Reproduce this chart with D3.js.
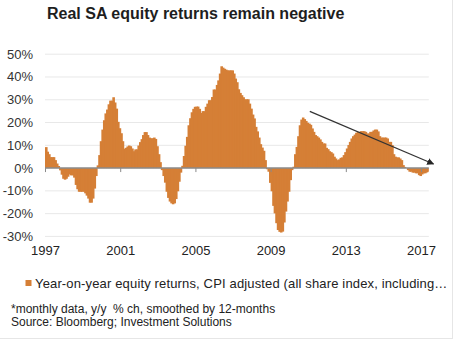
<!DOCTYPE html>
<html>
<head>
<meta charset="utf-8">
<script src="https://cdn.jsdelivr.net/npm/d3@7"></script>
<style>
  body { margin: 0; background: #fff; }
  svg { display: block; font-family: "Liberation Sans", Arial, sans-serif; }
  text { white-space: pre; }
</style>
</head>
<body>
<div id="chart"></div>
<script>
// monthly data, first value = Jan 1997
var startDate = new Date(1997, 0, 1);
var returns = [
  9.2, 7.2, 6.1, 4.8, 4.8, 4.8, 3.5, 2.0, 0.9, -1.0, -2.9, -4.7,
  -5.1, -4.7, -3.8, -2.8, -3.2, -3.2, -4.2, -7.4, -9.3, -10.4, -10.4, -10.4,
  -10.4, -11.1, -12.1, -13.4, -15.2, -15.2, -13.4, -9.0, -3.5, 1.2, 5.7, 11.8,
  16.9, 21.0, 24.0, 25.7, 28.0, 29.6, 29.6, 31.1, 28.8, 26.1, 20.3, 17.5,
  15.3, 11.8, 8.5, 8.9, 9.5, 9.9, 9.6, 8.6, 7.4, 8.2, 8.2, 9.9,
  11.4, 12.7, 14.5, 15.8, 15.8, 14.5, 13.4, 13.1, 13.1, 13.4, 12.8, 9.6,
  6.1, 2.6, -0.9, -3.5, -6.4, -10.4, -13.1, -14.7, -15.5, -15.9, -15.5, -13.6,
  -10.2, -6.0, -2.0, 1.0, 5.3, 9.8, 13.7, 18.8, 21.9, 24.5, 26.0, 26.9,
  27.0, 27.0, 26.0, 24.2, 25.0, 25.0, 26.9, 28.3, 29.8, 29.8, 31.2, 34.5,
  34.5, 36.5, 38.5, 41.5, 44.7, 44.1, 43.6, 43.2, 42.9, 42.9, 42.9, 42.9,
  41.5, 39.3, 37.7, 34.6, 33.0, 32.0, 31.1, 30.2, 30.2, 30.2, 28.3, 26.1,
  23.5, 21.8, 18.1, 16.1, 13.4, 10.5, 9.0, 7.6, 3.5, -0.5, -1.6, -6.5,
  -10.2, -16.6, -19.9, -24.2, -27.2, -28.0, -28.3, -27.9, -23.9, -19.1, -14.7, -10.4,
  -5.3, -0.9, 0.6, 6.1, 9.3, 14.0, 18.8, 21.3, 22.2, 21.5, 20.7, 19.9,
  19.5, 19.0, 17.4, 15.9, 14.5, 14.0, 13.4, 12.6, 11.5, 10.8, 10.8, 8.9,
  8.3, 7.4, 7.0, 6.4, 5.0, 4.2, 3.5, 3.8, 4.5, 4.7, 5.7, 7.0,
  8.6, 10.1, 11.5, 13.0, 14.0, 14.7, 15.5, 15.9, 15.9, 16.2, 16.2, 16.2,
  15.9, 15.2, 15.2, 15.9, 15.9, 16.5, 16.9, 16.9, 16.1, 14.0, 13.4, 13.4,
  13.4, 13.4, 13.0, 11.5, 11.5, 10.1, 6.1, 5.0, 4.7, 4.7, 4.2, 3.5,
  1.3, 0.5, 0.0, -0.9, -1.6, -1.6, -2.0, -2.0, -2.3, -2.3, -3.1, -3.5,
  -2.8, -2.3, -2.3, -1.9, -1.6
];
var tickYears = [1997, 2001, 2005, 2009, 2013, 2017];
var yTicks = [50, 40, 30, 20, 10, 0, -10, -20, -30];
// trend arrow: [date, value] start and end
var arrowFrom = [new Date(2011, 1, 1), 24.9];
var arrowTo = [new Date(2017, 8, 1), 1.8];

var titre = "Real SA equity returns remain negative";
var legende = "Year-on-year equity returns, CPI adjusted (all share index, including\u2026";
var notes = ["*monthly data, y/y  % ch, smoothed by 12-months", "Source: Bloomberg; Investment Solutions"];

var couleur = "#d57f36";
var largeur = 455, hauteur = 341;

var donnees = returns.map(function(v, i) {
    return { date: d3.timeMonth.offset(startDate, i), valeur: v };
});
var finDate = d3.timeMonth.offset(startDate, returns.length);

var svg = d3.select("#chart").append("svg").attr("width", largeur).attr("height", hauteur);

var x = d3.scaleTime().domain([startDate, finDate]).range([45, 428.8]);
var y = d3.scaleLinear().domain([-30, 50]).range([236.4, 54.2]);

// bordure droite / bas
svg.append("line").attr("x1", largeur - 2.5).attr("x2", largeur - 2.5).attr("y1", 0).attr("y2", hauteur - 2)
    .attr("stroke", "#e6e6e6").attr("stroke-width", 1);
svg.append("line").attr("x1", 0).attr("x2", largeur - 2).attr("y1", hauteur - 2.5).attr("y2", hauteur - 2.5)
    .attr("stroke", "#e6e6e6").attr("stroke-width", 1);

// titre
svg.append("text").attr("x", 47).attr("y", 19)
    .attr("font-size", 16).attr("font-weight", "bold").attr("fill", "#1e1e1e")
    .text(titre);

// grille
svg.append("g").selectAll("line").data(yTicks.filter(function(t) { return t != 0; }))
    .enter().append("line")
    .attr("x1", 45).attr("x2", 428.8)
    .attr("y1", function(d) { return y(d); }).attr("y2", function(d) { return y(d); })
    .attr("stroke", "#e8e8e8").attr("stroke-width", 1);

// etiquettes y
svg.append("g").selectAll("text").data(yTicks)
    .enter().append("text")
    .attr("x", 33).attr("y", function(d) { return y(d) + 4.5; })
    .attr("text-anchor", "end").attr("font-size", 13).attr("fill", "#333")
    .text(function(d) { return d + "%"; });

// barres (1px de recouvrement pour eviter les joints)
svg.append("g")
    .selectAll("rect").data(donnees)
    .enter().append("rect")
    .attr("x", function(d) { return x(d.date); })
    .attr("width", function(d, i) {
        var w = x(d3.timeMonth.offset(d.date, 1)) - x(d.date);
        return i < donnees.length - 1 ? w + 1 : w;
    })
    .attr("y", function(d) { return y(Math.max(0, d.valeur)); })
    .attr("height", function(d) { return Math.abs(y(d.valeur) - y(0)); })
    .attr("fill", couleur);

// axe x
var axeX = d3.axisBottom(x)
    .tickValues(tickYears.map(function(a) { return new Date(a, 0, 1); }))
    .tickFormat(d3.timeFormat("%Y"))
    .tickSize(4).tickPadding(9);
var gx = svg.append("g").attr("transform", "translate(0," + y(0) + ")").call(axeX);
gx.select(".domain").attr("stroke", "#8a8a8a").attr("stroke-width", 1.5)
    .attr("d", "M45,0H428.8");
gx.selectAll(".tick line").attr("stroke", "#8a8a8a");
gx.selectAll(".tick text").attr("font-size", 13).attr("fill", "#222")
    .attr("font-family", "Liberation Sans, Arial, sans-serif")
    .attr("y", y(-30) - y(0) + 9);

// fleche de tendance
svg.append("defs").append("marker")
    .attr("id", "pointe").attr("viewBox", "0 0 10 10")
    .attr("refX", 9).attr("refY", 5)
    .attr("markerWidth", 7).attr("markerHeight", 7)
    .attr("markerUnits", "userSpaceOnUse")
    .attr("orient", "auto")
    .append("path").attr("d", "M0,0L10,5L0,10Z").attr("fill", "#262626");
svg.append("line")
    .attr("x1", x(arrowFrom[0])).attr("y1", y(arrowFrom[1]))
    .attr("x2", x(arrowTo[0])).attr("y2", y(arrowTo[1]))
    .attr("stroke", "#333").attr("stroke-width", 1.2)
    .attr("marker-end", "url(#pointe)");

// legende
svg.append("rect").attr("x", 25.5).attr("y", 280).attr("width", 6).attr("height", 6).attr("fill", couleur);
svg.append("text").attr("x", 35).attr("y", 287.5)
    .attr("font-size", 13).attr("fill", "#222").attr("letter-spacing", 0.15)
    .text(legende);

// notes
svg.append("g").selectAll("text").data(notes)
    .enter().append("text")
    .attr("x", 11).attr("y", function(d, i) { return 313 + i * 13; })
    .attr("font-size", 12).attr("fill", "#222")
    .text(function(d) { return d; });
</script>
</body>
</html>
